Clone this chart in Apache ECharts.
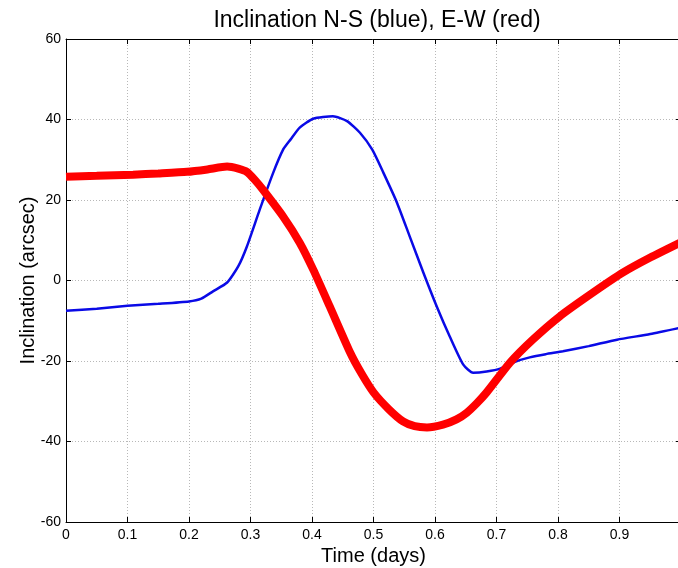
<!DOCTYPE html>
<html><head><meta charset="utf-8">
<script src="https://cdn.jsdelivr.net/npm/echarts@6/dist/echarts.min.js"></script>
<style>html,body{margin:0;padding:0;background:#fff}#c{width:678px;height:568px}</style>
</head><body><div id="c"></div>
<script>
var titleText = 'Inclination N-S (blue), E-W (red)';
var xName = 'Time (days)';
var yName = 'Inclination (arcsec)';
var blueX = [0, 0.05, 0.1, 0.15, 0.2, 0.22, 0.239, 0.262, 0.28, 0.294, 0.315, 0.337, 0.353, 0.365, 0.38, 0.402, 0.434, 0.457, 0.478, 0.498, 0.516, 0.538, 0.559, 0.581, 0.603, 0.624, 0.646, 0.662, 0.684, 0.706, 0.73, 0.754, 0.78, 0.808, 0.85, 0.896, 0.95, 1.0];
var blueY = [-7.5, -7.0, -6.3, -5.8, -5.2, -4.5, -2.7, -0.5, 3.5, 8.4, 17.6, 26.8, 32.5, 35.0, 38.0, 40.2, 40.8, 39.6, 36.7, 32.5, 26.8, 19.4, 10.9, 2.0, -6.5, -13.9, -20.9, -22.9, -22.6, -21.9, -20.2, -19.1, -18.3, -17.6, -16.3, -14.7, -13.3, -11.7];
var redX = [0, 0.05, 0.109, 0.15, 0.197, 0.23, 0.262, 0.28, 0.294, 0.307, 0.32, 0.353, 0.38, 0.402, 0.429, 0.462, 0.48, 0.5, 0.525, 0.548, 0.567, 0.587, 0.613, 0.635, 0.652, 0.668, 0.684, 0.722, 0.759, 0.803, 0.857, 0.906, 0.95, 1.0];
var redY = [25.8, 26.0, 26.3, 26.6, 27.0, 27.6, 28.3, 27.8, 27.0, 25.0, 22.6, 15.9, 9.4, 2.7, -6.5, -17.9, -23.0, -27.8, -32.0, -35.0, -36.2, -36.5, -35.8, -34.5, -32.8, -30.5, -27.8, -20.4, -14.7, -8.9, -3.0, 2.0, 5.7, 9.5];

function pairs(xs, ys){ return xs.map(function(x,i){ return [x, ys[i]]; }); }

var font = 'Liberation Sans, Arial, sans-serif';
var chart = echarts.init(document.getElementById('c'), null, {renderer:'canvas'});
var splitStyle = {show:true, lineStyle:{color:'#b8b8b8', type:[1,2], width:1}};
chart.setOption({
  animation:false,
  backgroundColor:'#fff',
  title:{text:titleText, left:372, textAlign:'center', top:4,
    textStyle:{fontFamily:font, fontSize:23, fontWeight:'normal', color:'#000'}},
  grid:{left:66, top:39, width:615, height:483, show:false, outerBoundsMode:'none', containLabel:false},
  xAxis:[{
    type:'value', min:0, max:1, interval:0.1, position:'bottom',
    name:xName, nameLocation:'middle', nameGap:23,
    nameTextStyle:{fontFamily:font, fontSize:20, color:'#000'},
    axisLine:{show:true, onZero:false, lineStyle:{color:'#000', width:1}},
    axisTick:{show:true, inside:true, length:5, lineStyle:{color:'#000'}},
    axisLabel:{fontFamily:font, fontSize:14, color:'#000', margin:6},
    splitLine:splitStyle
  },{
    type:'value', min:0, max:1, interval:0.1, position:'top',
    axisLine:{show:true, onZero:false, lineStyle:{color:'#000', width:1}},
    axisTick:{show:true, inside:true, length:5, lineStyle:{color:'#000'}},
    axisLabel:{show:false}, splitLine:{show:false}
  }],
  yAxis:[{
    type:'value', min:-60, max:60, interval:20, position:'left',
    name:yName, nameLocation:'middle', nameGap:28, nameMoveOverlap:false,
    nameTextStyle:{fontFamily:font, fontSize:20, color:'#000'},
    axisLine:{show:true, onZero:false, lineStyle:{color:'#000', width:1}},
    axisTick:{show:true, inside:true, length:5, lineStyle:{color:'#000'}},
    axisLabel:{fontFamily:font, fontSize:14, color:'#000', margin:5},
    splitLine:splitStyle
  },{
    type:'value', min:-60, max:60, interval:20, position:'right',
    axisLine:{show:true, onZero:false, lineStyle:{color:'#000', width:1}},
    axisTick:{show:true, inside:true, length:5, lineStyle:{color:'#000'}},
    axisLabel:{show:false}, splitLine:{show:false}
  }],
  series:[{
    type:'line', name:'N-S', data:pairs(blueX, blueY), smooth:0.2,
    showSymbol:false, lineStyle:{color:'#0a0ae6', width:2.5}, z:3
  },{
    type:'line', name:'E-W', data:pairs(redX, redY), smooth:0.2,
    showSymbol:false, lineStyle:{color:'#ff0000', width:8}, z:4
  }]
});
</script></body></html>
